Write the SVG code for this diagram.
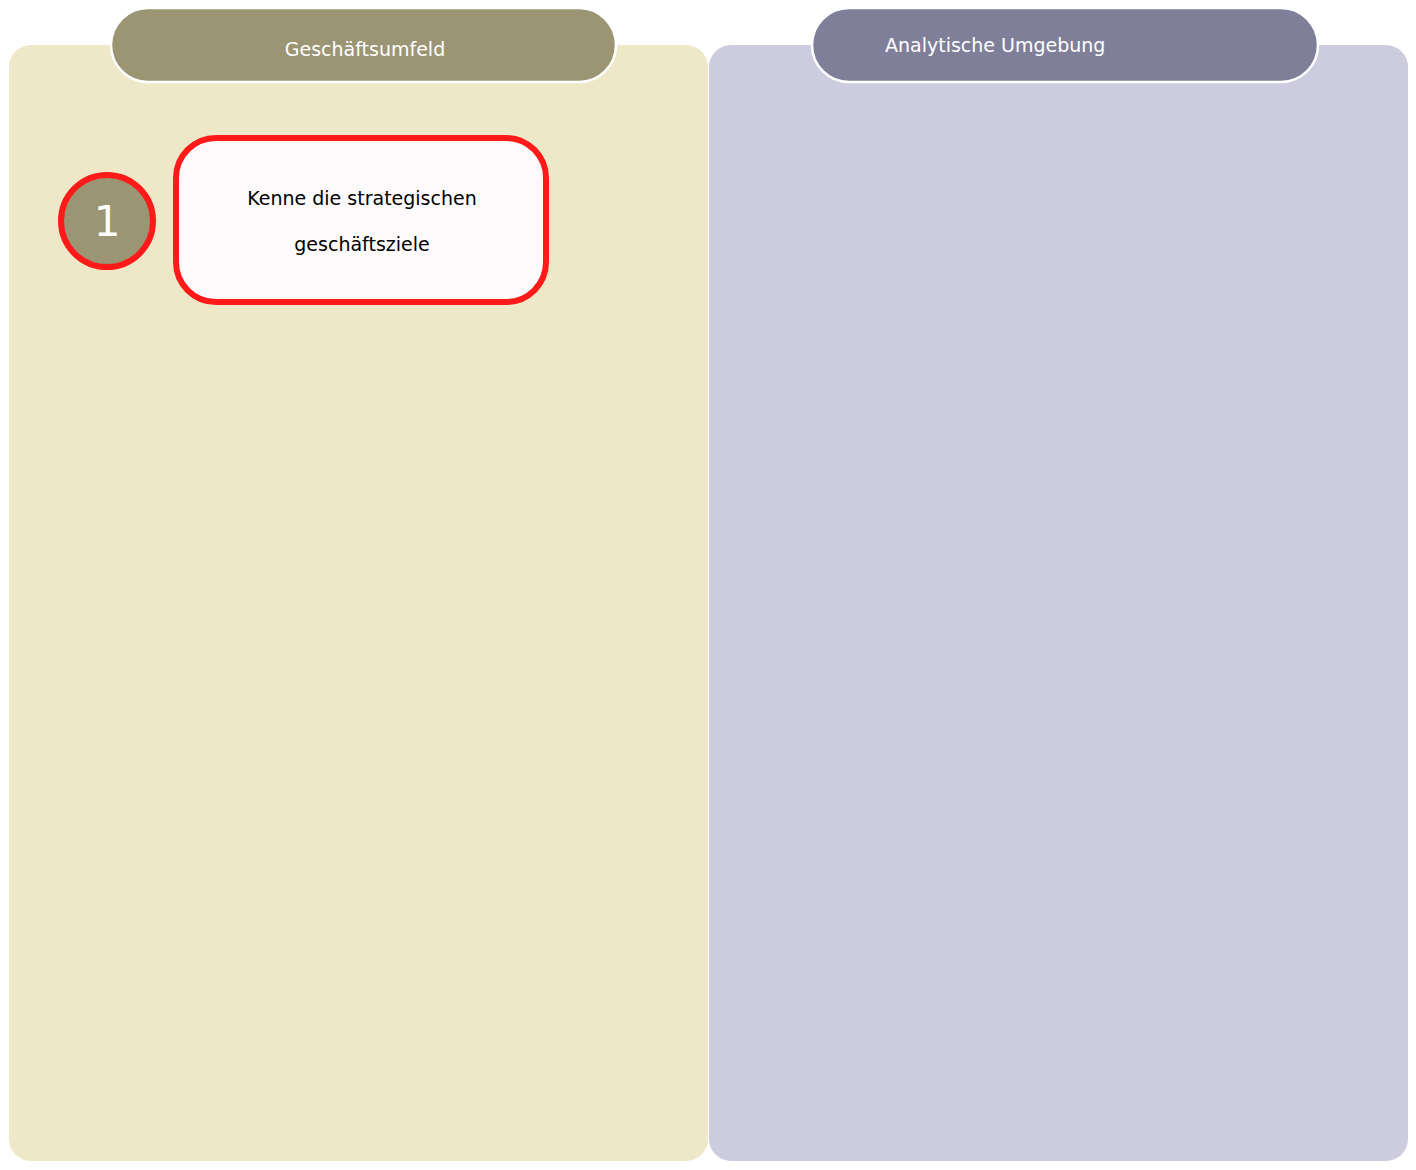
<svg xmlns="http://www.w3.org/2000/svg" width="1416" height="1170" viewBox="0 0 1416 1170">
<style>
.hdr{stroke:#ffffff;stroke-width:2.5}
.ht{font-family:"DejaVu Sans",sans-serif;font-size:19px;fill:#ffffff}
.red{stroke:#FF1A1A;stroke-width:6}
.bt{font-family:"DejaVu Sans",sans-serif;font-size:19px;fill:#000000;text-anchor:middle}
</style>
<rect width="1416" height="1170" fill="#ffffff"/>
<g id="lane-business">
<rect x="9" y="45" width="699" height="1116" rx="22" fill="#EEE8C9"/>
<rect class="hdr" x="111" y="8" width="505" height="74" rx="37" fill="#9C9574"/>
<text class="ht" x="365" y="56" text-anchor="middle">Geschäftsumfeld</text>
</g>
<g id="lane-analytic">
<rect x="709" y="45" width="699" height="1116" rx="22" fill="#CCCCDE"/>
<rect class="hdr" x="812" y="8" width="506" height="74" rx="37" fill="#7F7F9A"/>
<text class="ht" x="885" y="52">Analytische Umgebung</text>
</g>
<g id="step-1">
<circle class="red" cx="107" cy="221" r="46" fill="#9C9574"/>
<text x="107" y="236" text-anchor="middle" font-family="'DejaVu Sans',sans-serif" font-size="42" fill="#ffffff">1</text>
</g>
<g id="goal-box">
<rect class="red" x="176" y="138" width="370" height="164" rx="40" fill="#FCFAFB"/>
<text class="bt" x="362" y="205">Kenne die strategischen</text>
<text class="bt" x="362" y="251">geschäftsziele</text>
</g>
<g id="connectors"></g>
</svg>
